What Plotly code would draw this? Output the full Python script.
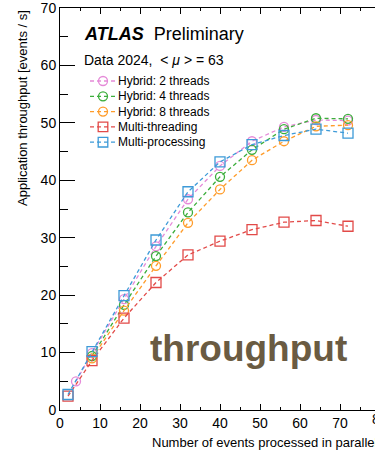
import plotly.graph_objects as go

# ---- data ----
x_hyb2 = [4, 8, 16, 24, 32, 40, 48, 56, 64, 72]
y_hyb2 = [5.0, 9.9, 19.3, 28.5, 36.7, 42.5, 46.8, 49.3, 50.5, 50.4]
x_hyb4 = [8, 16, 24, 32, 40, 48, 56, 64, 72]
y_hyb4 = [9.4, 18.3, 26.8, 34.4, 40.6, 45.3, 48.9, 50.8, 50.7]
x_hyb8 = [8, 16, 24, 32, 40, 48, 56, 64, 72]
y_hyb8 = [9.0, 17.3, 25.1, 32.6, 38.4, 43.5, 46.8, 49.4, 49.6]
x_mt = [2, 8, 16, 24, 32, 40, 48, 56, 64, 72]
y_mt = [2.4, 8.6, 16.0, 22.2, 27.0, 29.4, 31.4, 32.7, 33.0, 32.0]
x_mp = [2, 8, 16, 24, 32, 40, 48, 56, 64, 72]
y_mp = [2.7, 10.15, 19.9, 29.6, 38.0, 43.2, 46.2, 47.8, 48.9, 48.2]

names = ["Hybrid: 2 threads", "Hybrid: 4 threads", "Hybrid: 8 threads",
         "Multi-threading", "Multi-processing"]
colors = ["#e58ad8", "#3cae3c", "#ff9c2a", "#e24a48", "#3d9ad8"]
symbols = ["circle", "circle", "circle", "square", "square"]
xs = [x_hyb2, x_hyb4, x_hyb8, x_mt, x_mp]
ys = [y_hyb2, y_hyb4, y_hyb8, y_mt, y_mp]

x_ticks = [0, 10, 20, 30, 40, 50, 60, 70, 80]
y_ticks = [0, 10, 20, 30, 40, 50, 60, 70]

W, H = 375, 452
L, R, T, B = 60, 375, 8, 410
XMAX = (R - L) / 4.0  # 4 px per unit
YMAX = 70
FONT = "Liberation Sans, Arial, Helvetica, sans-serif"
DASH = "4px,3px"


def px(p):
    return (p - L) / (R - L)


def py(p):
    return (B - p) / (B - T)


fig = go.Figure()
for x, y, n, c, s in zip(xs, ys, names, colors, symbols):
    fig.add_trace(go.Scatter(
        x=x, y=y, name=n, mode="lines+markers",
        line=dict(color=c, width=1.3, dash=DASH),
        marker=dict(symbol=s + "-open", size=9 if s == "circle" else 10,
                    color=c, line=dict(width=1.3, color=c)),
        showlegend=False, cliponaxis=False,
    ))

shapes = []
annotations = []
# manual legend
for i, (n, c, s) in enumerate(zip(names, colors, symbols)):
    yc = 81 + i * 15.3
    shapes.append(dict(type="line", xref="paper", yref="paper",
                       x0=px(90), x1=px(115), y0=py(yc), y1=py(yc),
                       line=dict(color=c, width=1.3, dash=DASH)))
    r = 4.5 if s == "circle" else 4.8
    shapes.append(dict(type="circle" if s == "circle" else "rect",
                       xref="paper", yref="paper",
                       x0=px(103 - r), x1=px(103 + r), y0=py(yc + r), y1=py(yc - r),
                       line=dict(color=c, width=1.3)))
    annotations.append(dict(text=n, xref="paper", yref="paper", x=px(116), y=py(yc),
                            xanchor="left", yanchor="middle", showarrow=False,
                            font=dict(size=12, color="black", family=FONT)))

annotations += [
    dict(text="<b><i>ATLAS</i></b>&nbsp; Preliminary", xref="paper", yref="paper",
         x=px(82), y=py(34), xanchor="left", yanchor="middle", showarrow=False,
         font=dict(size=18, color="black", family=FONT)),
    dict(text="Data 2024,&nbsp; &lt; <i>μ</i> &gt; = 63", xref="paper", yref="paper",
         x=px(82), y=py(60), xanchor="left", yanchor="middle", showarrow=False,
         font=dict(size=14, color="black", family=FONT)),
    dict(text="<b>throughput</b>", xref="paper", yref="paper",
         x=px(148), y=py(348), xanchor="left", yanchor="middle", showarrow=False,
         font=dict(size=37, color="#6a5b42", family=FONT)),
    dict(text="Application throughput [events / s]", xref="paper", yref="paper",
         x=px(22), y=py(8), xanchor="center", yanchor="top", textangle=-90,
         showarrow=False, font=dict(size=13, color="black", family=FONT)),
    dict(text="Number of events processed in parallel", xref="paper", yref="paper",
         x=80 / XMAX, y=py(443), xanchor="right", yanchor="middle", showarrow=False,
         font=dict(size=13, color="black", family=FONT)),
    dict(text=str(x_ticks[-1]), xref="paper", yref="paper",
         x=x_ticks[-1] / XMAX, y=py(419), xanchor="center", yanchor="middle",
         showarrow=False, font=dict(size=14, color="black", family=FONT)),
]

fig.update_layout(
    width=W, height=H,
    margin=dict(l=L, r=W - R, t=T, b=H - B, pad=0),
    paper_bgcolor="white", plot_bgcolor="white",
    font=dict(family=FONT, size=14, color="black"),
    shapes=shapes, annotations=annotations, showlegend=False,
    xaxis=dict(range=[0, XMAX], tickvals=x_ticks, ticks="inside", ticklen=6,
               tickwidth=1, tickcolor="black", showline=True, linecolor="black",
               linewidth=1, mirror="ticks", showgrid=False, zeroline=False,
               tickfont=dict(size=14), ticklabeloverflow="allow",
               minor=dict(dtick=5, ticks="inside", ticklen=3, tickcolor="black",
                          showgrid=False)),
    yaxis=dict(range=[0, YMAX], tickvals=y_ticks, ticks="inside", ticklen=15,
               tickwidth=1, tickcolor="black", showline=True, linecolor="black",
               linewidth=1, showgrid=False, zeroline=False,
               tickfont=dict(size=14), ticklabeloverflow="allow",
               minor=dict(dtick=5, ticks="inside", ticklen=8, tickcolor="black",
                          showgrid=False)),
    yaxis2=dict(range=[0, YMAX], overlaying="y", side="right", tickvals=y_ticks,
                ticks="inside", ticklen=15, tickcolor="black", showline=False,
                showticklabels=False, showgrid=False, zeroline=False,
                minor=dict(dtick=5, ticks="inside", ticklen=8, tickcolor="black",
                           showgrid=False)),
)

fig.write_html("out.html")
